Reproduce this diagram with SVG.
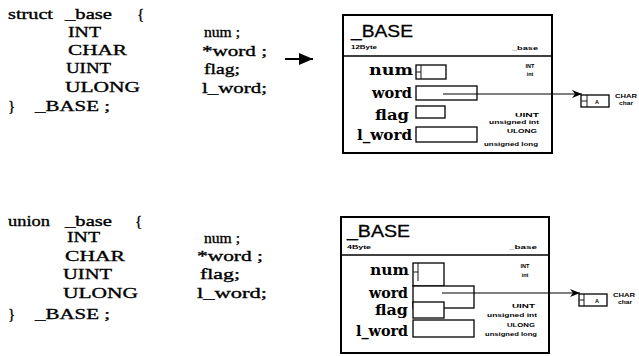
<svg xmlns="http://www.w3.org/2000/svg" width="639" height="356" viewBox="0 0 639 356">
<style>
text{fill:#000}
.code{font-family:"Liberation Serif","Times New Roman",serif;font-size:15px;stroke:#000;stroke-width:0.35}
.lbl{font-family:"DejaVu Serif","Liberation Serif",serif;font-size:15px;font-weight:bold}
.title{font-family:"Liberation Sans",Arial,sans-serif;font-size:17px;stroke:#000;stroke-width:0.3}
.tiny{font-family:"Liberation Sans",Arial,sans-serif;font-size:5.5px;font-weight:bold}
.mid{text-anchor:middle}
.end{text-anchor:end}
.frame{fill:#fff;stroke:#000;stroke-width:2}
.div{stroke:#000;stroke-width:1.6}
.cell{fill:#fff;stroke:#000;stroke-width:1.3}
.thin{fill:none;stroke:#000;stroke-width:0.9}
.conn{fill:none;stroke:#000;stroke-width:1.2}
</style>
<defs>
<marker id="ah" viewBox="0 0 10 8" refX="10" refY="4" markerWidth="10" markerHeight="8" markerUnits="userSpaceOnUse" orient="auto"><path d="M0,0 L10,4 L0,8 L3,4 Z" fill="#000"/></marker>
<marker id="big" viewBox="0 0 14 12" refX="14" refY="6" markerWidth="14" markerHeight="12" markerUnits="userSpaceOnUse" orient="auto"><path d="M0,0 L14,6 L0,12 Z" fill="#000"/></marker>
</defs>

<g id="struct-code">
<text class="code" x="8" y="19" textLength="45" lengthAdjust="spacingAndGlyphs">struct</text>
<text class="code" x="65" y="19" textLength="47" lengthAdjust="spacingAndGlyphs">_base</text>
<text class="code" x="137" y="19">{</text>
<text class="code" x="68" y="37" textLength="33" lengthAdjust="spacingAndGlyphs">INT</text>
<text class="code" x="68" y="55" textLength="59" lengthAdjust="spacingAndGlyphs">CHAR</text>
<text class="code" x="66" y="73" textLength="45" lengthAdjust="spacingAndGlyphs">UINT</text>
<text class="code" x="65" y="92" textLength="75" lengthAdjust="spacingAndGlyphs">ULONG</text>
<text class="code" x="204" y="37" textLength="36" lengthAdjust="spacingAndGlyphs">num ;</text>
<text class="code" x="202" y="56" textLength="65" lengthAdjust="spacingAndGlyphs">*word ;</text>
<text class="code" x="204" y="74" textLength="36" lengthAdjust="spacingAndGlyphs">flag;</text>
<text class="code" x="202" y="93" textLength="65" lengthAdjust="spacingAndGlyphs">l_word;</text>
<text class="code" x="8" y="111">}</text>
<text class="code" x="35" y="111" textLength="75" lengthAdjust="spacingAndGlyphs">_BASE ;</text>
</g>

<g id="union-code">
<text class="code" x="8" y="226" textLength="42" lengthAdjust="spacingAndGlyphs">union</text>
<text class="code" x="65" y="226" textLength="47" lengthAdjust="spacingAndGlyphs">_base</text>
<text class="code" x="135" y="226">{</text>
<text class="code" x="67" y="242" textLength="33" lengthAdjust="spacingAndGlyphs">INT</text>
<text class="code" x="65" y="261" textLength="60" lengthAdjust="spacingAndGlyphs">CHAR</text>
<text class="code" x="63" y="279" textLength="49" lengthAdjust="spacingAndGlyphs">UINT</text>
<text class="code" x="63" y="298" textLength="75" lengthAdjust="spacingAndGlyphs">ULONG</text>
<text class="code" x="204" y="243" textLength="36" lengthAdjust="spacingAndGlyphs">num ;</text>
<text class="code" x="197" y="261" textLength="66" lengthAdjust="spacingAndGlyphs">*word ;</text>
<text class="code" x="200" y="279" textLength="40" lengthAdjust="spacingAndGlyphs">flag;</text>
<text class="code" x="197" y="298" textLength="70" lengthAdjust="spacingAndGlyphs">l_word;</text>
<text class="code" x="8" y="319">}</text>
<text class="code" x="35" y="319" textLength="75" lengthAdjust="spacingAndGlyphs">_BASE ;</text>
</g>

<g id="struct-box">
<rect class="frame" x="343" y="15" width="209" height="138"/>
<line class="div" x1="343" y1="56" x2="552" y2="56"/>
<text class="title" x="351" y="37" textLength="62" lengthAdjust="spacingAndGlyphs">_BASE</text>
<text class="tiny" x="351" y="49" textLength="26" lengthAdjust="spacingAndGlyphs">12Byte</text>
<text class="tiny" x="512" y="50" textLength="26" lengthAdjust="spacingAndGlyphs">_base</text>
<text class="lbl" x="369" y="75" textLength="44" lengthAdjust="spacingAndGlyphs">num</text>
<text class="lbl" x="372" y="98" textLength="40" lengthAdjust="spacingAndGlyphs">word</text>
<text class="lbl" x="375" y="120" textLength="34" lengthAdjust="spacingAndGlyphs">flag</text>
<text class="lbl" x="357" y="140" textLength="55" lengthAdjust="spacingAndGlyphs">l_word</text>
<rect class="cell" x="416" y="65" width="30" height="14"/>
<path class="thin" d="M421,65 V79 M416.5,72 H421"/>
<rect class="cell" x="416" y="86" width="61" height="14"/>
<rect class="cell" x="416" y="106" width="29" height="12"/>
<rect class="cell" x="416" y="127" width="61" height="15"/>
<text class="tiny mid" x="530" y="68">INT</text>
<text class="tiny mid" x="530" y="76">int</text>
<text class="tiny end" x="539" y="117" textLength="24" lengthAdjust="spacingAndGlyphs">UINT</text>
<text class="tiny end" x="539" y="124" textLength="50" lengthAdjust="spacingAndGlyphs">unsigned int</text>
<text class="tiny end" x="537" y="133" textLength="30" lengthAdjust="spacingAndGlyphs">ULONG</text>
<text class="tiny end" x="538" y="146" textLength="54" lengthAdjust="spacingAndGlyphs">unsigned long</text>
</g>

<g id="struct-char">
<rect class="cell" x="581" y="95" width="28" height="12"/>
<path class="thin" d="M587,95 V107 M581.5,101 H587"/>
<text class="tiny mid" x="597" y="104" font-size="6.5">A</text>
<text class="tiny" x="615" y="98" textLength="22" lengthAdjust="spacingAndGlyphs">CHAR</text>
<text class="tiny" x="619" y="105" textLength="14" lengthAdjust="spacingAndGlyphs">char</text>
</g>

<g id="union-box">
<rect class="frame" x="341" y="217" width="208" height="136"/>
<line class="div" x1="341" y1="255" x2="549" y2="255"/>
<text class="title" x="347" y="237" textLength="63" lengthAdjust="spacingAndGlyphs">_BASE</text>
<text class="tiny" x="347" y="249" textLength="24" lengthAdjust="spacingAndGlyphs">4Byte</text>
<text class="tiny" x="509" y="249" textLength="28" lengthAdjust="spacingAndGlyphs">_base</text>
<text class="lbl" x="370" y="275" textLength="39" lengthAdjust="spacingAndGlyphs">num</text>
<text class="lbl" x="369" y="298" textLength="39" lengthAdjust="spacingAndGlyphs">word</text>
<text class="lbl" x="375" y="315" textLength="33" lengthAdjust="spacingAndGlyphs">flag</text>
<text class="lbl" x="356" y="336" textLength="52" lengthAdjust="spacingAndGlyphs">l_word</text>
<rect class="cell" x="413" y="263" width="31" height="23"/>
<path class="thin" d="M418,263 V281 M413.5,272 H418"/>
<rect class="cell" x="413" y="286" width="61" height="22"/>
<rect class="cell" x="413" y="302" width="31" height="16"/>
<rect class="cell" x="413" y="320" width="61" height="17"/>
<text class="tiny mid" x="525" y="268">INT</text>
<text class="tiny mid" x="525" y="277">int</text>
<text class="tiny end" x="535" y="308" textLength="23" lengthAdjust="spacingAndGlyphs">UINT</text>
<text class="tiny end" x="537" y="317" textLength="50" lengthAdjust="spacingAndGlyphs">unsigned int</text>
<text class="tiny end" x="535" y="327" textLength="28" lengthAdjust="spacingAndGlyphs">ULONG</text>
<text class="tiny end" x="537" y="336" textLength="52" lengthAdjust="spacingAndGlyphs">unsigned long</text>
</g>

<g id="union-char">
<rect class="cell" x="579" y="294" width="28" height="12"/>
<path class="thin" d="M584,294 V306 M579.5,300 H584"/>
<text class="tiny mid" x="597" y="303" font-size="6.5">A</text>
<text class="tiny" x="613" y="297" textLength="22" lengthAdjust="spacingAndGlyphs">CHAR</text>
<text class="tiny" x="618" y="304" textLength="14" lengthAdjust="spacingAndGlyphs">char</text>
</g>

<g id="connectors">
<line x1="285" y1="59" x2="313" y2="59" stroke="#000" stroke-width="2" marker-end="url(#big)"/>
<path class="conn" d="M443,94 H582" marker-end="url(#ah)"/>
<path class="conn" d="M442,293 H580" marker-end="url(#ah)"/>
</g>
</svg>
